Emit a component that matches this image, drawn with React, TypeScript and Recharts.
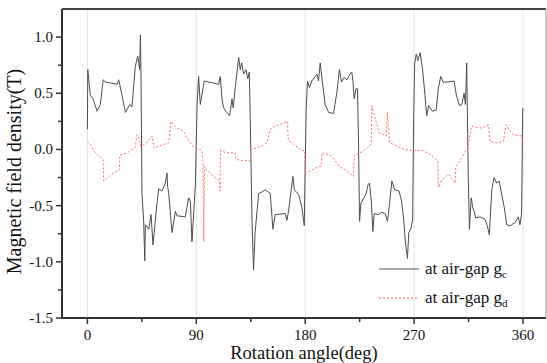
import React from "react";
import { LineChart, Line, XAxis, YAxis, ReferenceLine, Legend } from "recharts";

// flux density at air-gap g_c (solid dark line)
const gcAngle = [
  0, 0.3, 1.1, 2.5, 4.7, 8, 10.7, 13, 14.9, 20, 24.5, 25.9, 28.6, 31.4, 35, 36.9, 39.6, 41.6, 43.2, 43.8,
  44.3, 45.1, 46.5, 47.4, 47.9, 50.7, 52.6, 54.2, 57.5, 58.9, 61.6, 64.4, 65.8, 66.3, 67.2, 69.9, 72.7, 74,
  80.9, 83.7, 85.1, 86.4, 89.2, 90.6, 91.9, 93.3, 96.6, 100.2, 108.4, 109.8, 111.2, 112.6, 114.5, 117.5,
  119.5, 120.5, 122.2, 125, 126.3, 127.5, 129.1, 131, 132.5, 133.8, 134.6, 136, 137.3, 138.6, 141.5, 144,
  147, 149.5, 151.1, 153.3, 155.2, 163.5, 164.9, 166.2, 169.8, 171, 174.5, 177.2, 179.2, 180.8, 181.9,
  183.5, 185.5, 189.7, 191, 192.4, 194.5, 196.5, 199.3, 203.4, 206.2, 208.3, 210, 212, 214.5, 217, 218.5,
  219.5, 220.5, 222, 223.2, 224, 224.9, 226, 228, 230.4, 232, 233.1, 234.5, 235.9, 237, 240.5, 243, 246,
  248, 249.7, 251.6, 254, 257.5, 259.5, 261.4, 262.8, 264.5, 265.6, 267.5, 268.8, 269.6, 270.5, 271.8, 273,
  275, 277, 279, 280.4, 282, 285, 288.2, 290, 292, 294, 298, 303, 305, 307.5, 309.5, 311.3, 312.4, 313.5,
  314, 314.8, 315.7, 317.2, 318.5, 319.6, 320.9, 324.4, 328.5, 330.5, 332.2, 334.2, 336.1, 338.3, 340.2,
  342.4, 344.4, 346.6, 349.3, 353.4, 356.1, 357.5, 358.8, 359.8,
];
const gcValue = [
  0.18, 0.71, 0.62, 0.48, 0.45, 0.34, 0.4, 0.62, 0.6, 0.59, 0.58, 0.62, 0.48, 0.33, 0.4, 0.38, 0.74, 0.83, 0.71, 1.02,
  0.65, -0.39, -0.64, -0.99, -0.67, -0.71, -0.58, -0.85, -0.48, -0.35, -0.37, -0.3, -0.21, -0.33, -0.39, -0.74, -0.55, -0.59,
  -0.6, -0.43, -0.46, -0.82, -0.32, 0.39, 0.65, 0.4, 0.61, 0.6, 0.58, 0.65, 0.45, 0.37, 0.34, 0.3,
  0.45, 0.37, 0.55, 0.82, 0.71, 0.77, 0.67, 0.71, 0.63, 0.69, 0.27, -0.62, -1.07, -0.74, -0.39, -0.38,
  -0.36, -0.38, -0.39, -0.71, -0.58, -0.57, -0.63, -0.55, -0.24, -0.36, -0.4, -0.51, -0.68, 0.36, 0.61,
  0.55, 0.61, 0.67, 0.61, 0.77, 0.57, 0.4, 0.33, 0.32, 0.51, 0.71, 0.6, 0.64, 0.62, 0.67, 0.69,
  0.6, 0.45, 0.54, 0.54, 0.12, -0.64, -0.48, -0.44, -0.39, -0.31, -0.3, -0.44, -0.73, -0.57, -0.58, -0.56, -0.57,
  -0.64, -0.48, -0.28, -0.36, -0.37, -0.45, -0.62, -0.83, -0.97, -0.74, -0.7, -0.62, 0.27, 0.77, 0.85, 0.79,
  0.86, 0.71, 0.48, 0.3, 0.39, 0.34, 0.35, 0.54, 0.65, 0.6, 0.6, 0.61, 0.48, 0.39, 0.4, 0.5, 0.4, 0.77,
  0.33, -0.27, -0.71, -0.43, -0.52, -0.55, -0.61, -0.6, -0.62, -0.68, -0.76, -0.36, -0.25, -0.3, -0.28,
  -0.4, -0.51, -0.67, -0.68, -0.65, -0.6, -0.67, -0.57, 0.37,
];

// flux density at air-gap g_d (red dotted line)
const gdAngle = [
  0, 2, 6, 9.3, 13, 13.5, 20, 26.5, 26.7, 33, 39.6, 41, 42.5, 44, 48, 53.4, 55.2, 58.5, 67.2, 69.1, 72.7,
  79.5, 83.7, 87.8, 93, 94.7, 95.5, 96.2, 96.8, 98.5, 104.3, 109.2, 109.6, 110, 115, 122.2, 122.7, 130,
  134.6, 135, 138.7, 144, 148.4, 151.6, 158, 165.4, 166, 170, 177.3, 179.5, 180.2, 189.7, 193.2, 193.8,
  200.7, 204, 208, 214, 219.9, 220.5, 224, 231.1, 234.6, 235.1, 238, 241, 246.9, 248, 249.7, 256, 262,
  270.3, 277.7, 284, 289.5, 290.1, 293, 298.4, 303.9, 304.5, 308, 314, 317.6, 320, 326, 331.4, 332.8,
  338, 343.8, 346, 348, 352, 359, 360,
];
const gdValue = [
  0.07, 0.05, -0.02, -0.06, -0.09, -0.28, -0.22, -0.18, -0.05, -0.03, 0.02, 0.13, 0.1, 0.03, 0.05, 0.12, 0.01, 0.03, 0.06, 0.25, 0.2,
  0.16, 0.08, 0.02, 0, -0.01, -0.1, -0.82, -0.15, -0.18, -0.24, -0.28, -0.37, -0.01, -0.03, -0.03, -0.09, -0.1,
  -0.1, 0, 0.01, 0.03, 0.06, 0.19, 0.22, 0.25, 0.08, 0.05, -0.01, -0.01, -0.21, -0.16, -0.15, -0.03,
  -0.05, -0.09, -0.15, -0.19, -0.24, -0.05, -0.04, 0.01, 0.05, 0.39, 0.27, 0.15, 0.12, 0.33, 0.06, 0.03, 0,
  -0.01, -0.01, -0.05, -0.1, -0.34, -0.27, -0.22, -0.3, -0.15, -0.1, 0.01, 0.21, 0.2, 0.19, 0.22, 0.07,
  0.06, 0.07, 0.22, 0.18, 0.13, 0.12, 0.04,
];

const xTicks = [0, 45, 90, 135, 180, 225, 270, 315, 360];
const xLabelTicks = [0, 90, 180, 270, 360];
const yTicks = [-1.5, -1.25, -1, -0.75, -0.5, -0.25, 0, 0.25, 0.5, 0.75, 1];
const yLabelTicks = [-1.5, -1, -0.5, 0, 0.5, 1];

const gcData = gcAngle.map((a, i) => ({ angle: a, gc: gcValue[i] }));
const gdData = gdAngle.map((a, i) => ({ angle: a, gd: gdValue[i] }));

const serif = "Liberation Serif, Times New Roman, serif";
const axisColor = "#333";
const textStyle = { fontFamily: serif };

const XTick = (props: any) => {
  const { x, y, payload } = props;
  const major = xLabelTicks.includes(payload.value);
  return (
    <g>
      <line x1={x} x2={x} y1={y} y2={y + (major ? 6 : 4)} stroke={axisColor} strokeWidth={1.5} />
      {major && (
        <text x={x} y={y + 22} textAnchor="middle" style={textStyle} fontSize={15} fill="#111">
          {payload.value}
        </text>
      )}
    </g>
  );
};

const YTick = (props: any) => {
  const { x, y, payload } = props;
  const major = yLabelTicks.includes(payload.value);
  return (
    <g>
      <line x1={x - (major ? 6 : 4)} x2={x} y1={y} y2={y} stroke={axisColor} strokeWidth={1.5} />
      {major && (
        <text x={x - 9} y={y + 5} textAnchor="end" style={textStyle} fontSize={15} fill="#111">
          {payload.value.toFixed(1)}
        </text>
      )}
    </g>
  );
};

const LegendBox = () => {
  const row = (stroke: string, dash: string | undefined, sub: string) => (
    <div style={{ display: "flex", alignItems: "center", height: 29 }}>
      <svg width={40} height={6} style={{ marginRight: 6 }}>
        <line x1={0} x2={40} y1={3} y2={3} stroke={stroke} strokeWidth={1} strokeDasharray={dash} />
      </svg>
      <span style={{ fontFamily: serif, fontSize: 17, color: "#111", whiteSpace: "nowrap" }}>
        at air-gap g
        <sub style={{ fontSize: 11, lineHeight: 0 }}>{sub}</sub>
      </span>
    </div>
  );
  return (
    <div>
      {row("#555", undefined, "c")}
      {row("#ff6b6b", "2 2", "d")}
    </div>
  );
};

export default function App() {
  return (
    <div style={{ position: "fixed", left: 0, top: 0, background: "#fff" }}>
      <LineChart width={547} height={363} margin={{ top: 9, right: 1, bottom: 0, left: 0 }}>
        <XAxis
          dataKey="angle"
          type="number"
          domain={[-21, 379]}
          ticks={xTicks}
          interval={0}
          allowDataOverflow
          height={45}
          tickSize={0}
          tickMargin={0}
          tickLine={false}
          tick={<XTick />}
          axisLine={{ stroke: axisColor, strokeWidth: 2 }}
          label={{
            content: (p: any) => (
              <text
                x={p.viewBox.x + p.viewBox.width / 2}
                y={p.viewBox.y + 41}
                textAnchor="middle"
                style={textStyle}
                fontSize={18.5}
                fill="#111"
              >
                Rotation angle(deg)
              </text>
            ),
          }}
        />
        <YAxis
          type="number"
          domain={[-1.5, 1.25]}
          ticks={yTicks}
          interval={0}
          allowDataOverflow
          width={62}
          tickSize={0}
          tickMargin={0}
          tickLine={false}
          tick={<YTick />}
          axisLine={{ stroke: axisColor, strokeWidth: 2 }}
          label={{
            content: (p: any) => {
              const cx = 14;
              const cy = p.viewBox.y + p.viewBox.height / 2 + 8;
              return (
                <text
                  x={cx}
                  y={cy}
                  transform={`rotate(-90 ${cx} ${cy})`}
                  textAnchor="middle"
                  dominantBaseline="central"
                  style={textStyle}
                  fontSize={20}
                  fill="#111"
                >
                  Magnetic field density(T)
                </text>
              );
            },
          }}
        />
        {xLabelTicks.map((t) => (
          <ReferenceLine key={t} x={t} stroke="#e4e4e4" strokeWidth={1} />
        ))}
        <ReferenceLine y={1.25} stroke="#444" strokeWidth={2} />
        <ReferenceLine x={379} stroke="#999" strokeWidth={1} />
        <Line
          data={gcData}
          dataKey="gc"
          type="linear"
          stroke="#4d4d4d"
          strokeWidth={1}
          dot={false}
          isAnimationActive={false}
        />
        <Line
          data={gdData}
          dataKey="gd"
          type="linear"
          stroke="#ff6b6b"
          strokeWidth={1}
          strokeDasharray="2 2"
          dot={false}
          isAnimationActive={false}
        />
        <Legend
          layout="horizontal"
          verticalAlign="middle"
          align="center"
          content={<LegendBox />}
          wrapperStyle={{ position: "absolute", left: 379, top: 254, width: 168, height: 58 }}
        />
      </LineChart>
    </div>
  );
}
